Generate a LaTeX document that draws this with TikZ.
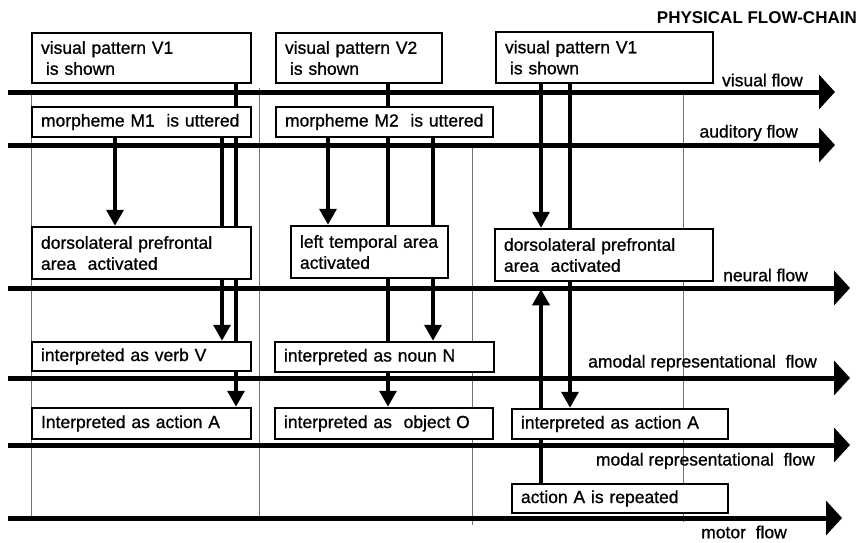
\documentclass[tikz,border=0pt]{standalone}
\usepackage{fontspec}
\setmainfont{Liberation Sans}
\newfontfamily\inkfont[FakeBold=0.9]{Liberation Sans}
\usetikzlibrary{arrows.meta}

\tikzset{
  box/.style={draw=black, line width=2.5pt, fill=white, rectangle,
    inner xsep=9pt, inner ysep=2pt, align=left,
    font=\inkfont\fontsize{17.5pt}{21pt}\selectfont},
  flowline/.style={line width=5pt, -{Triangle[length=16pt,width=34pt]}},
  conn/.style={line width=3.5pt, -{Triangle[length=16pt,width=17pt]}},
  divider/.style={draw=black!55, line width=1pt},
  flowlabel/.style={anchor=east, inner sep=0pt,
    font=\inkfont\fontsize{17.5pt}{21pt}\selectfont},
}

\begin{document}
\begin{tikzpicture}[x=1pt, y=-1pt]
\useasboundingbox (0,0) rectangle (860,542);

% ---- thin column dividers
\coordinate (d1t) at (31,92);  \coordinate (d1b) at (31,519);
\coordinate (d2t) at (259,88); \coordinate (d2b) at (259,519);
\coordinate (d3t) at (472,145); \coordinate (d3b) at (472,525);
\coordinate (d4t) at (683,92); \coordinate (d4b) at (683,522);
\draw[divider] (d1t) -- (d1b);
\draw[divider] (d2t) -- (d2b);
\draw[divider] (d3t) -- (d3b);
\draw[divider] (d4t) -- (d4b);

% ---- horizontal flows
\coordinate (visL) at (8,92);   \coordinate (visR) at (835,92);
\coordinate (audL) at (8,145);  \coordinate (audR) at (835,145);
\coordinate (neuL) at (8,288);  \coordinate (neuR) at (850,288);
\coordinate (amoL) at (8,378);  \coordinate (amoR) at (850,378);
\coordinate (modL) at (8,445);  \coordinate (modR) at (850,445);
\coordinate (motL) at (8,518);  \coordinate (motR) at (842,518);
\draw[flowline] (visL) -- (visR);
\draw[flowline] (audL) -- (audR);
\draw[flowline] (neuL) -- (neuR);
\draw[flowline] (amoL) -- (amoR);
\draw[flowline] (modL) -- (modR);
\draw[flowline] (motL) -- (motR);

% ---- flow labels
\node[flowlabel, font=\fontsize{17pt}{20pt}\selectfont\bfseries] (title) at (857,18) {PHYSICAL FLOW-CHAIN};
\node[flowlabel] (lvis) at (803,80) {visual flow};
\node[flowlabel] (laud) at (798,133) {auditory flow};
\node[flowlabel] (lneu) at (808,275) {neural flow};
\node[flowlabel] (lamo) at (817,363) {amodal representational\ \ flow};
\node[flowlabel] (lmod) at (815,461) {modal representational\ \ flow};
\node[flowlabel] (lmot) at (787,532) {motor\ \ flow};

% ---- boxes (drawn last so they sit on top of the lines)
\def\boxes{%
% column 1
\node[box, minimum width=219pt, minimum height=50pt, text width=201pt] (vA) at (141.5,58)
  {visual pattern V1\\\hspace*{5pt}is shown};
\node[box, minimum width=219pt, minimum height=30pt, text width=201pt] (mA) at (141.5,122)
  {morpheme M1\ \ is uttered};
\node[box, minimum width=219pt, minimum height=52pt, text width=201pt] (dA) at (141.5,253)
  {dorsolateral prefrontal\\area\ \ activated};
\node[box, minimum width=219pt, minimum height=29pt, text width=201pt] (iA) at (141.5,356.5)
  {interpreted as verb V};
\node[box, minimum width=219pt, minimum height=31pt, text width=201pt] (aA) at (141.5,423.5)
  {Interpreted as action A};
% column 2
\node[box, minimum width=166pt, minimum height=50pt, text width=148pt] (vB) at (359,58)
  {visual pattern V2\\\hspace*{5pt}is shown};
\node[box, minimum width=217pt, minimum height=30pt, text width=199pt] (mB) at (384.5,122)
  {morpheme M2\ \ is uttered};
\node[box, minimum width=157pt, minimum height=52pt, text width=139pt] (tB) at (369.5,252)
  {\mbox{left temporal area}\\activated};
\node[box, minimum width=219pt, minimum height=30pt, text width=201pt] (nB) at (384.5,357)
  {interpreted as noun N};
\node[box, minimum width=218pt, minimum height=31pt, text width=200pt] (oB) at (384,423.5)
  {interpreted as\ \ object O};
% column 3
\node[box, minimum width=217pt, minimum height=51pt, text width=199pt] (vC) at (604.5,57.5)
  {visual pattern V1\\\hspace*{5pt}is shown};
\node[box, minimum width=218pt, minimum height=52pt, text width=200pt] (dC) at (604,255)
  {dorsolateral prefrontal\\area\ \ activated};
\node[box, minimum width=216pt, minimum height=30pt, text width=198pt] (aC) at (620,424)
  {interpreted as action A};
\node[box, minimum width=216pt, minimum height=29pt, text width=198pt] (rC) at (620,498.5)
  {action A is repeated};
}
% place the nodes invisibly first so the connectors can refer to them
\begin{scope}[box/.append style={draw=none, fill=none, text opacity=0}]
\boxes
\end{scope}

% ---- connector columns
\coordinate (x1) at (236,0);
\coordinate (x2) at (222,0);
\coordinate (x3) at (115,0);
\coordinate (x4) at (388,0);
\coordinate (x5) at (328,0);
\coordinate (x6) at (433,0);
\coordinate (x7) at (541,0);
\coordinate (x8) at (570,0);

\draw[conn] (vA.south -| x1) -- (aA.north -| x1);
\draw[conn] (mA.south -| x2) -- (iA.north -| x2);
\draw[conn] (mA.south -| x3) -- (dA.north -| x3);
\draw[conn] (vB.south -| x4) -- (oB.north -| x4);
\draw[conn] (mB.south -| x5) -- (tB.north -| x5);
\draw[conn] (mB.south -| x6) -- (nB.north -| x6);
\draw[conn] (vC.south -| x7) -- (dC.north -| x7);
\draw[conn] (vC.south -| x8) -- (aC.north -| x8);
\draw[conn, shorten >=7pt] (rC.north -| x7) -- (dC.south -| x7);

% ---- boxes on top
\boxes
\end{tikzpicture}
\end{document}
